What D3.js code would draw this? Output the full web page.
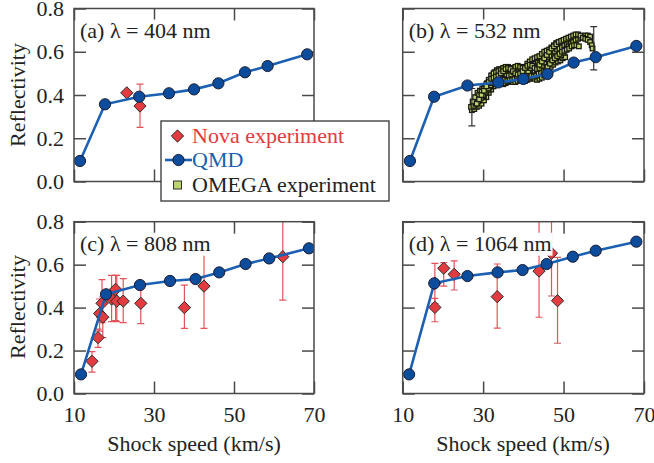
<!DOCTYPE html>
<html>
<head>
<meta charset="utf-8">
<script src="https://cdn.jsdelivr.net/npm/d3@7"></script>
<style>
  body { margin: 0; background: #fff; }
  svg text { font-family: "Liberation Serif", "Times New Roman", "DejaVu Serif", serif; }
</style>
</head>
<body>
<div id="chart"></div>
<script>
var svgWidth = 654;
var svgHeight = 463;
var fontSize = 22;

// tick values shared by all panels
var speedTicks = [10, 30, 50, 70];
var reflTicks = [0, 0.2, 0.4, 0.6, 0.8];

// QMD curves
var qmdSpeed404 = [11.5, 17.75, 26.3, 33.75, 40, 46.1, 52.75, 58.4, 68.3];
var qmdRefl404 = [0.095, 0.357, 0.392, 0.408, 0.426, 0.454, 0.505, 0.534, 0.588];
var qmdSpeed532 = [11.8, 17.8, 26.1, 33.8, 40, 46, 52.5, 58, 68.1];
var qmdRefl532 = [0.095, 0.392, 0.444, 0.458, 0.474, 0.497, 0.55, 0.575, 0.627];
var qmdSpeed808 = [11.75, 18, 26.5, 34, 40.4, 46.3, 52.9, 58.8, 68.75];
var qmdRefl808 = [0.089, 0.462, 0.505, 0.524, 0.533, 0.564, 0.603, 0.629, 0.676];
var qmdSpeed1064 = [11.6, 17.85, 26.1, 33.6, 39.8, 45.8, 52.3, 58, 68.1];
var qmdRefl1064 = [0.089, 0.513, 0.547, 0.564, 0.575, 0.603, 0.637, 0.665, 0.707];

// Nova experiment (null = no error bar)
var novaSpeed404 = [23.2, 26.5];
var novaRefl404 = [0.41, 0.349];
var novaLo404 = [null, 0.25];
var novaHi404 = [null, 0.45];

var novaSpeed808 = [14.5, 16.0, 16.4, 17.2, 17.0, 19.4, 20.4, 20.7, 22.3, 26.7, 37.6, 42.5, 62.2];
var novaRefl808 = [0.15, 0.26, 0.372, 0.355, 0.42, 0.44, 0.485, 0.43, 0.43, 0.42, 0.40, 0.50, 0.637];
var novaLo808 = [0.10, 0.215, 0.29, 0.26, 0.33, 0.335, 0.34, 0.335, 0.33, 0.325, 0.303, 0.303, 0.435];
var novaHi808 = [0.195, 0.30, 0.44, 0.45, 0.53, 0.55, 0.55, 0.55, 0.535, 0.52, 0.505, 0.653, 0.85];

var novaSpeed1064 = [18.0, 18.0, 20.2, 22.8, 33.5, 43.9, 47.0, 48.5];
var novaRefl1064 = [0.513, 0.401, 0.583, 0.555, 0.451, 0.57, 0.653, 0.432];
var novaLo1064 = [0.42, 0.334, 0.50, 0.482, 0.304, 0.355, 0.454, 0.234];
var novaHi1064 = [0.606, 0.443, 0.609, 0.618, 0.603, 0.85, 0.85, 0.634];

// OMEGA experiment traces at 532 nm, [speed, reflectivity]
var omegaTrace1 = [[27.0,0.345],[27.6,0.35],[28.2,0.36],[28.8,0.37],[29.4,0.385],[30.0,0.40],[30.6,0.415],[31.2,0.43],[31.8,0.445],[32.4,0.455],[33.0,0.46],[33.6,0.465],[34.2,0.47],[34.8,0.475],[35.4,0.47],[36.0,0.465],[36.6,0.47],[37.2,0.475],[37.8,0.48],[38.4,0.485],[39.0,0.48],[39.6,0.475],[40.2,0.48],[40.8,0.49],[41.4,0.495],[42.0,0.49],[42.6,0.485],[43.2,0.49],[43.8,0.50],[44.4,0.505],[45.0,0.51],[45.6,0.52],[46.2,0.525],[46.8,0.53],[47.4,0.54],[48.0,0.55],[48.6,0.555],[49.2,0.56],[49.8,0.57],[50.4,0.575]];
var omegaTrace2 = [[27.4,0.37],[28.0,0.39],[28.6,0.41],[29.2,0.42],[29.8,0.43],[30.4,0.44],[31.0,0.455],[31.6,0.47],[32.2,0.49],[32.8,0.505],[33.4,0.515],[34.0,0.52],[34.6,0.515],[35.2,0.505],[35.8,0.495],[36.4,0.49],[37.0,0.495],[37.6,0.505],[38.2,0.515],[38.8,0.52],[39.4,0.515],[40.0,0.505],[40.6,0.50],[41.2,0.51],[41.8,0.525],[42.4,0.54],[43.0,0.55],[43.6,0.555],[44.2,0.55],[44.8,0.545],[45.4,0.55],[46.0,0.56],[46.6,0.575],[47.2,0.59],[47.8,0.60],[48.4,0.61],[49.0,0.615],[49.6,0.62],[50.2,0.63],[50.8,0.635],[51.4,0.64],[52.0,0.645]];
var omegaTrace3 = [[28.4,0.36],[29.0,0.38],[29.6,0.40],[30.2,0.42],[30.8,0.44],[31.4,0.46],[32.0,0.475],[32.6,0.48],[33.2,0.485],[33.8,0.49],[34.4,0.50],[35.0,0.51],[35.6,0.52],[36.2,0.525],[36.8,0.52],[37.4,0.51],[38.0,0.50],[38.6,0.495],[39.2,0.50],[39.8,0.51],[40.4,0.525],[41.0,0.535],[41.6,0.54],[42.2,0.535],[42.8,0.525],[43.4,0.52],[44.0,0.525],[44.6,0.535],[45.2,0.55],[45.8,0.565],[46.4,0.575],[47.0,0.58],[47.6,0.575],[48.2,0.57],[48.8,0.575],[49.4,0.585],[50.0,0.595],[50.6,0.61],[51.2,0.625],[51.8,0.635],[52.4,0.645],[53.0,0.655],[53.6,0.66],[54.2,0.665],[54.8,0.67],[55.4,0.675],[56.0,0.675],[56.6,0.67]];
var omegaTrace4 = [[27.2,0.33],[27.8,0.335],[28.4,0.345],[29.0,0.35],[29.6,0.36],[30.2,0.375],[30.8,0.39],[31.4,0.41],[32.0,0.425],[32.6,0.44],[33.2,0.45],[33.8,0.455],[34.4,0.455],[35.0,0.45],[35.6,0.455],[36.2,0.46],[36.8,0.465],[37.4,0.46],[38.0,0.46],[38.6,0.465],[39.2,0.47],[39.8,0.47],[40.4,0.465],[41.0,0.47],[41.6,0.475],[42.2,0.48],[42.8,0.475],[43.4,0.47],[44.0,0.475],[44.6,0.48],[45.2,0.49],[45.8,0.50]];
var omegaTrace5 = [[44.0,0.54],[44.6,0.555],[45.2,0.57],[45.8,0.585],[46.4,0.60],[47.0,0.615],[47.6,0.625],[48.2,0.635],[48.8,0.645],[49.4,0.65],[50.0,0.655],[50.6,0.66],[51.2,0.665],[51.8,0.67],[52.4,0.675],[53.0,0.68],[53.6,0.68],[54.2,0.675],[54.8,0.665],[55.4,0.66],[56.0,0.655],[56.6,0.645],[57.0,0.63],[57.2,0.615]];
var omegaTrace6 = [[46.0,0.53],[46.6,0.545],[47.2,0.56],[47.8,0.57],[48.4,0.58],[49.0,0.59],[49.6,0.60],[50.2,0.605],[50.8,0.61],[51.4,0.615],[52.0,0.625],[52.6,0.63],[53.2,0.63],[53.8,0.625]];
var omegaTrace7 = [[29.0,0.40],[29.6,0.415],[30.2,0.43],[30.8,0.45],[31.4,0.47],[32.0,0.49],[32.6,0.50],[33.2,0.505],[33.8,0.51],[34.4,0.515],[35.0,0.525],[35.6,0.53],[36.2,0.53],[36.8,0.525],[37.4,0.525],[38.0,0.53],[38.6,0.535],[39.2,0.53],[39.8,0.525],[40.4,0.53],[41.0,0.545],[41.6,0.555],[42.2,0.565],[42.8,0.57],[43.4,0.575],[44.0,0.58],[44.6,0.59],[45.2,0.60],[45.8,0.605],[46.4,0.61],[47.0,0.62],[47.6,0.63],[48.2,0.64],[48.8,0.645]];
var omegaTrace8 = [[27.8,0.36],[28.4,0.375],[29.0,0.39],[29.6,0.39],[30.2,0.395],[30.8,0.41],[31.4,0.425],[32.0,0.44],[32.6,0.455],[33.2,0.47],[33.8,0.48],[34.4,0.49],[35.0,0.49],[35.6,0.485],[36.2,0.48],[36.8,0.485],[37.4,0.49],[38.0,0.49],[38.6,0.48],[39.2,0.485],[39.8,0.495],[40.4,0.50],[41.0,0.495],[41.6,0.49],[42.2,0.50],[42.8,0.51],[43.4,0.515],[44.0,0.51],[44.6,0.515],[45.2,0.525],[45.8,0.535],[46.4,0.545],[47.0,0.55],[47.6,0.56]];
var omegaErrSpeed = [27.2, 57.5];
var omegaErrLo = [0.257, 0.516];
var omegaErrHi = [0.43, 0.716];

var red = "#e23b40";
var redBar = "#e2535a";
var blue = "#1b60b2";
var blueFill = "#0c4c9c";
var green = "#bcd46c";
var frameColor = "#4a4a4a";
var textColor = "#222";
var serif = "Liberation Serif, Times New Roman, DejaVu Serif, serif";

var svg = d3.select("#chart")
  .append("svg")
    .attr("width", svgWidth)
    .attr("height", svgHeight)
    .attr("font-family", serif);

function zip(xs, ys, lo, hi) {
  return xs.map(function(d, i) {
    return { x: d, y: ys[i], lo: lo ? lo[i] : null, hi: hi ? hi[i] : null };
  });
}

function drawErr(sel, data, x, y, color, w) {
  var eb = sel.selectAll(null).data(data).enter().append("g")
    .attr("stroke", color).attr("stroke-width", w);
  eb.append("line")
    .attr("x1", d => x(d.x)).attr("x2", d => x(d.x))
    .attr("y1", d => y(d.lo)).attr("y2", d => y(d.hi));
  eb.append("line")
    .attr("x1", d => x(d.x) - 3.5).attr("x2", d => x(d.x) + 3.5)
    .attr("y1", d => y(d.lo)).attr("y2", d => y(d.lo));
  eb.append("line")
    .attr("x1", d => x(d.x) - 3.5).attr("x2", d => x(d.x) + 3.5)
    .attr("y1", d => y(d.hi)).attr("y2", d => y(d.hi));
}

function drawPanel(p) {
  var x = d3.scaleLinear().domain([10, 70]).range([p.x0, p.x1]);
  var y = d3.scaleLinear().domain([0, 0.8]).range([p.y1, p.y0]);
  var g = svg.append("g");

  g.append("clipPath").attr("id", "clip-" + p.id)
    .append("rect")
      .attr("x", p.x0).attr("y", p.y0)
      .attr("width", p.x1 - p.x0).attr("height", p.y1 - p.y0);

  // axes with inward ticks
  var bottomAxis = d3.axisBottom(x).tickValues(speedTicks).tickSize(-12).tickPadding(13)
    .tickFormat(p.xLabels ? d3.format("d") : "");
  var topAxis = d3.axisTop(x).tickValues(speedTicks).tickSize(-12).tickFormat("");
  var leftAxis = d3.axisLeft(y).tickValues(reflTicks).tickSize(-12).tickPadding(10)
    .tickFormat(p.yLabels ? d3.format(".1f") : "");
  var rightAxis = d3.axisRight(y).tickValues(reflTicks).tickSize(-12).tickFormat("");

  [[bottomAxis, "translate(0," + p.y1 + ")"], [topAxis, "translate(0," + p.y0 + ")"],
   [leftAxis, "translate(" + p.x0 + ",0)"], [rightAxis, "translate(" + p.x1 + ",0)"]]
    .forEach(function(a) {
      var ax = g.append("g").attr("transform", a[1]).call(a[0]);
      ax.attr("font-family", serif).attr("font-size", fontSize);
      ax.select(".domain").remove();
      ax.selectAll("line").attr("stroke", frameColor).attr("stroke-width", 1.5);
      ax.selectAll("text").attr("fill", textColor);
    });

  var plot = g.append("g").attr("clip-path", "url(#clip-" + p.id + ")");

  // OMEGA traces
  if (p.omega) {
    p.omega.forEach(function(trace) {
      plot.selectAll(null).data(trace).enter().append("rect")
        .attr("x", d => x(d[0]) - 2.3)
        .attr("y", d => y(d[1]) - 2.3)
        .attr("width", 4.6).attr("height", 4.6)
        .attr("fill", green)
        .attr("stroke", "#1a1a10")
        .attr("stroke-width", 1.3);
    });
    drawErr(plot, zip(omegaErrSpeed, omegaErrLo, omegaErrLo, omegaErrHi), x, y, "#333", 1.2);
  }

  // Nova points with error bars
  if (p.nova) {
    drawErr(plot, p.nova.filter(d => d.lo !== null), x, y, redBar, 1.2);
    plot.selectAll(null).data(p.nova).enter().append("path")
      .attr("d", d3.symbol().type(d3.symbolDiamond2).size(96))
      .attr("transform", d => "translate(" + x(d.x) + "," + y(d.y) + ")")
      .attr("fill", red)
      .attr("stroke", "#2b2b2b")
      .attr("stroke-width", 1);
  }

  // QMD line and points
  var line = d3.line().x(d => x(d.x)).y(d => y(d.y));
  plot.append("path")
    .datum(p.qmd)
    .attr("d", line)
    .attr("fill", "none")
    .attr("stroke", blue)
    .attr("stroke-width", 2.6);
  plot.selectAll(null).data(p.qmd).enter().append("circle")
    .attr("cx", d => x(d.x))
    .attr("cy", d => y(d.y))
    .attr("r", 5.6)
    .attr("fill", blueFill)
    .attr("stroke", "#1c1c30")
    .attr("stroke-width", 1);

  // panel title on a white backing
  var title = g.append("text")
    .attr("x", p.x0 + 6)
    .attr("y", p.y0 + 29)
    .attr("font-size", fontSize)
    .attr("fill", textColor)
    .text(p.title);
  var bb = title.node().getBBox();
  g.insert("rect", function() { return title.node(); })
    .attr("x", bb.x - 1).attr("y", bb.y + 2)
    .attr("width", bb.width + 2).attr("height", bb.height - 2)
    .attr("fill", "#fff");

  // frame
  g.append("rect")
    .attr("x", p.x0).attr("y", p.y0)
    .attr("width", p.x1 - p.x0).attr("height", p.y1 - p.y0)
    .attr("fill", "none")
    .attr("stroke", frameColor)
    .attr("stroke-width", 1.5);
}

drawPanel({ id: "a", x0: 74, x1: 314, y0: 8.5, y1: 181.5, xLabels: false, yLabels: true,
  title: "(a) \u03bb = 404 nm",
  qmd: zip(qmdSpeed404, qmdRefl404),
  nova: zip(novaSpeed404, novaRefl404, novaLo404, novaHi404) });

drawPanel({ id: "b", x0: 402.7, x1: 644, y0: 8.5, y1: 181.5, xLabels: false, yLabels: false,
  title: "(b) \u03bb = 532 nm",
  qmd: zip(qmdSpeed532, qmdRefl532),
  omega: [omegaTrace4, omegaTrace8, omegaTrace1, omegaTrace2, omegaTrace7, omegaTrace3, omegaTrace6, omegaTrace5] });

drawPanel({ id: "c", x0: 74, x1: 314, y0: 221.7, y1: 393.5, xLabels: true, yLabels: true,
  title: "(c) \u03bb = 808 nm",
  qmd: zip(qmdSpeed808, qmdRefl808),
  nova: zip(novaSpeed808, novaRefl808, novaLo808, novaHi808) });

drawPanel({ id: "d", x0: 402.7, x1: 644, y0: 221.7, y1: 393.5, xLabels: true, yLabels: false,
  title: "(d) \u03bb = 1064 nm",
  qmd: zip(qmdSpeed1064, qmdRefl1064),
  nova: zip(novaSpeed1064, novaRefl1064, novaLo1064, novaHi1064) });

// axis titles
[95, 307].forEach(function(cy) {
  svg.append("text")
    .attr("transform", "translate(25," + cy + ") rotate(-90)")
    .attr("text-anchor", "middle")
    .attr("font-size", fontSize)
    .attr("fill", textColor)
    .text("Reflectivity");
});
[194, 523].forEach(function(cx) {
  svg.append("text")
    .attr("x", cx).attr("y", 451)
    .attr("text-anchor", "middle")
    .attr("font-size", fontSize)
    .attr("fill", textColor)
    .text("Shock speed (km/s)");
});

// legend
var legend = svg.append("g");
legend.append("rect")
  .attr("x", 161).attr("y", 121).attr("width", 228).attr("height", 80)
  .attr("fill", "#fff").attr("stroke", "#333").attr("stroke-width", 1.3);
legend.append("path")
  .attr("d", d3.symbol().type(d3.symbolDiamond2).size(96))
  .attr("transform", "translate(177.5,136)")
  .attr("fill", red).attr("stroke", "#2b2b2b").attr("stroke-width", 1);
legend.append("text").attr("x", 192).attr("y", 142.5).attr("font-size", fontSize)
  .attr("fill", red).text("Nova experiment");
legend.append("line")
  .attr("x1", 165).attr("x2", 192).attr("y1", 160).attr("y2", 160)
  .attr("stroke", blue).attr("stroke-width", 2.6);
legend.append("circle").attr("cx", 178.5).attr("cy", 160).attr("r", 5.6)
  .attr("fill", blueFill).attr("stroke", "#1c1c30").attr("stroke-width", 1);
legend.append("text").attr("x", 192).attr("y", 167).attr("font-size", fontSize)
  .attr("fill", blue).text("QMD");
legend.append("rect").attr("x", 173.5).attr("y", 181).attr("width", 8).attr("height", 8)
  .attr("fill", green).attr("stroke", "#333").attr("stroke-width", 1);
legend.append("text").attr("x", 192).attr("y", 191.5).attr("font-size", fontSize)
  .attr("fill", textColor).text("OMEGA experiment");
</script>
</body>
</html>
